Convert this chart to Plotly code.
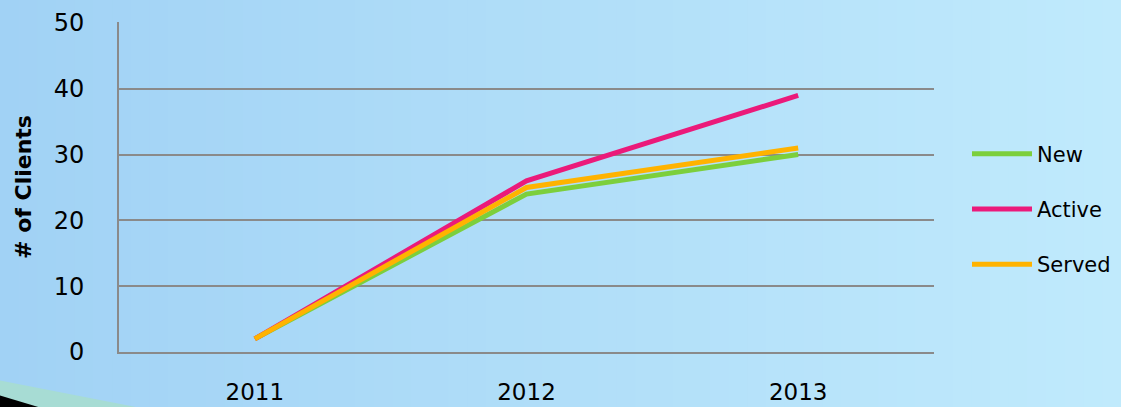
import plotly.graph_objects as go

years = ["2011", "2012", "2013"]
new_vals = [2, 24, 30]
active_vals = [2, 26, 39]
served_vals = [2, 25, 31]
series_names = ["New", "Active", "Served"]
series_colors = ["#7ccf3c", "#eb1a7a", "#ffb300"]
y_ticks = [0, 10, 20, 30, 40, 50]

W, H = 1121, 407
L, R, T, B = 119, 187, 22, 55
pw, ph = W - L - R, H - T - B

def px_x(px):
    return (px - L) / pw

def px_y(py):
    return (H - B - py) / ph

fig = go.Figure()
for name, vals, col in zip(series_names, [new_vals, active_vals, served_vals], series_colors):
    fig.add_trace(go.Scatter(x=years, y=vals, name=name, mode="lines",
                             line=dict(color=col, width=5), legendgroup=name))

# background gradient strips
shapes = []
n = 60
c0 = (161, 210, 245)
c1 = (192, 234, 252)
for i in range(n):
    t = i / (n - 1)
    c = tuple(int(round(c0[k] + (c1[k] - c0[k]) * t)) for k in range(3))
    x0 = W * i / n
    x1 = W * (i + 1) / n + 1
    shapes.append(dict(type="rect", xref="paper", yref="paper", layer="below",
                       x0=px_x(x0), x1=px_x(x1), y0=px_y(H + 2), y1=px_y(-2),
                       fillcolor="rgb(%d,%d,%d)" % c, line=dict(width=0)))
# decorative corner
shapes.append(dict(type="path", xref="paper", yref="paper", layer="below",
                   path="M %f %f L %f %f L %f %f Z" % (px_x(-2), px_y(380), px_x(146), px_y(409), px_x(-2), px_y(409)),
                   fillcolor="#a7dcd4", line=dict(width=0)))
shapes.append(dict(type="path", xref="paper", yref="paper", layer="below",
                   path="M %f %f L %f %f L %f %f Z" % (px_x(-2), px_y(395), px_x(45), px_y(409), px_x(-2), px_y(409)),
                   fillcolor="#000000", line=dict(width=0)))

fig.update_layout(
    width=W, height=H,
    margin=dict(l=L, r=R, t=T, b=B, autoexpand=False),
    paper_bgcolor="#b0def8",
    plot_bgcolor="rgba(0,0,0,0)",
    font=dict(family="DejaVu Sans", color="#000000"),
    shapes=shapes,
    showlegend=True,
    legend=dict(x=px_x(967), xanchor="left", y=px_y(209), yanchor="middle",
                bgcolor="rgba(0,0,0,0)", font=dict(size=21),
                tracegroupgap=25, itemwidth=60),
    xaxis=dict(type="category", range=[-0.5, 2.5], showgrid=False, automargin=False,
               showline=True, linecolor="#8a8a8a", linewidth=2,
               ticks="", tickfont=dict(size=23), ticklabelstandoff=18),
    yaxis=dict(range=[0, 50.15], tickvals=y_ticks, showgrid=True, automargin=False,
               gridcolor="#8a8a8a", gridwidth=2, zeroline=False,
               showline=True, linecolor="#8a8a8a", linewidth=2,
               ticks="", tickfont=dict(size=24), ticklabelstandoff=28,
               title=dict(text="<b># of Clients</b>", font=dict(size=22), standoff=16)),
)

fig.write_html("out.html", config={"displayModeBar": False},
               post_script="document.body.style.margin='0';document.body.style.overflow='hidden';")
